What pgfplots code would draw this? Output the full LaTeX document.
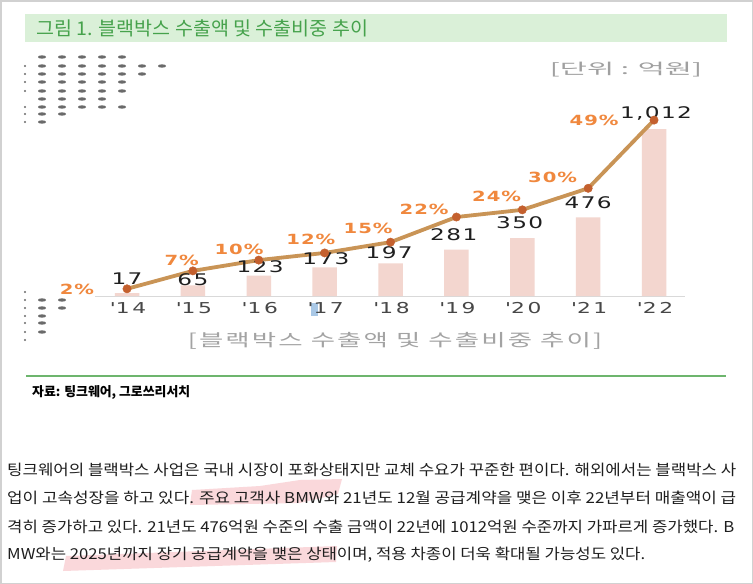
\documentclass[border=0pt]{standalone}
\usepackage{fontspec}
\usepackage{graphicx}
\usepackage{pgfplots}
\pgfplotsset{compat=1.18}
\setmainfont{Noto Sans CJK KR}
\newfontfamily\numfont[LetterSpace=6]{DejaVu Sans}
\newfontfamily\tickfont[LetterSpace=12]{DejaVu Sans}
\newfontfamily\pctfont[LetterSpace=5]{DejaVu Sans}
\newcommand\fitw[2]{\resizebox{#1}{\height}{#2}}
\newcommand\vw[1]{\scalebox{1.45}[1]{#1}}
\newcommand\pw[1]{\scalebox{1.4}[1]{#1}}
\newcommand\tk[1]{\scalebox{1.45}[1]{\textquotesingle#1}}
\definecolor{barc}{HTML}{F3D6CF}
\definecolor{linec}{HTML}{C99456}
\definecolor{markc}{HTML}{C4602E}
\definecolor{pctc}{HTML}{F0883E}
\definecolor{titlebg}{HTML}{DAF0D8}
\definecolor{titlefg}{HTML}{46A24C}
\definecolor{sepc}{HTML}{6DB56D}
\definecolor{dotc}{HTML}{6A6A6A}
\definecolor{unitc}{HTML}{A0A0A0}
\definecolor{subc}{HTML}{A3A3A3}
\definecolor{hlblue}{HTML}{A9C8E6}
\definecolor{pinkhl}{HTML}{F6B8BE}
\definecolor{txt}{HTML}{1E1E1E}
\begin{document}
\begin{tikzpicture}[
  vl/.style={font=\numfont\fontsize{16}{16}\selectfont, text=black!88, inner sep=0},
  pl/.style={font=\pctfont\bfseries\fontsize{14}{14}\selectfont, text=pctc, inner sep=0}]
\begin{scope}[x=1pt,y=1pt]
\fill[white] (0,0) rectangle (753,-584);
\draw[black!18, line width=1.5pt] (0.75,-0.75) rectangle (752.25,-583.25);
% title bar
\fill[titlebg] (25,-14) rectangle (727,-42);
\node[anchor=west, inner sep=0, text=titlefg] at (36,-28) {\fitw{332pt}{\fontsize{19}{19}\selectfont 그림 1. 블랙박스 수출액 및 수출비중 추이}};
% blurred dots (top left)
\foreach \yy/\nn in {57/4,66/6,74/5,82/4,91/4,99/3,107/4,114/1,122/0}{
  \foreach \i in {0,...,\nn}{\fill[dotc] (42+20*\i,-\yy) ellipse [x radius=4, y radius=1.7];}}
\foreach \yy in {66,74,82,91,107,114,122}{\fill[dotc] (25,-\yy) circle (1.1);}
% blurred dots (bottom left)
\foreach \yy in {292,300,308,316,323,332,340}{\fill[dotc] (25,-\yy) circle (1.1);}
\foreach \yy in {300,308,316,323,332}{\fill[dotc] (42,-\yy) ellipse [x radius=4, y radius=1.7];}
\foreach \yy in {300,308}{\fill[dotc] (62,-\yy) ellipse [x radius=4, y radius=1.7];}
% unit
\node[text=unitc, inner sep=0] at (626,-70) {\fitw{152pt}{\fontsize{15}{15}\selectfont [단위 : 억원]}};
% selection highlight on '17
\fill[hlblue] (311,-303) rectangle (318,-316);
\end{scope}
% bars
\begin{axis}[at={(95pt,-296pt)}, anchor=south west, scale only axis,
  width=590pt, height=200pt, xmin=-0.486, xmax=8.47, ymin=0, ymax=1212,
  axis x line*=bottom, axis y line=none,
  x axis line style={draw=black!15, line width=1pt, -},
  xtick={0,...,8},
  xticklabels={\tk{14},\tk{15},\tk{16},\tk{17},\tk{18},\tk{19},\tk{20},\tk{21},\tk{22}},
  major tick length=0pt, ytick=\empty,
  xticklabel style={font=\tickfont\fontsize{15}{15}\selectfont, text=black!72, yshift=-3pt, xshift=1pt},
  clip=false]
\addplot[ybar, bar width=24.5pt, fill=barc, draw=none] coordinates {(0,17) (1,65) (2,123) (3,173) (4,197) (5,281) (6,350) (7,476) (8,1012)};
\end{axis}
% share line
\begin{axis}[at={(95pt,-296pt)}, anchor=south west, scale only axis,
  width=590pt, height=200pt, xmin=-0.486, xmax=8.47, ymin=0, ymax=55.71,
  hide axis, clip=false]
\addplot[linec, line width=3.8pt, mark=*, mark size=4.2pt, mark options={solid, fill=markc, draw=markc, line width=0.4pt}] coordinates {(0,2) (1,7) (2,10) (3,12) (4,15) (5,22) (6,24) (7,30) (8,49)};
\node[vl] at (axis cs:0,4.74) {\vw{17}};
\node[vl] at (axis cs:1.0,4.46) {\vw{65}};
\node[vl] at (axis cs:2.02,8.08) {\vw{123}};
\node[vl] at (axis cs:3.02,10.31) {\vw{173}};
\node[vl] at (axis cs:3.98,11.98) {\vw{197}};
\node[vl] at (axis cs:4.96,16.99) {\vw{281}};
\node[vl] at (axis cs:5.96,20.33) {\vw{350}};
\node[vl] at (axis cs:7.0,25.9) {\vw{476}};
\node[vl] at (axis cs:8.03,50.7) {\vw{1,012}};
\node[pl] at (axis cs:-0.76,1.95) {\pw{2\%}};
\node[pl] at (axis cs:0.83,10.03) {\pw{7\%}};
\node[pl] at (axis cs:1.70,13.09) {\pw{10\%}};
\node[pl] at (axis cs:2.79,15.88) {\pw{12\%}};
\node[pl] at (axis cs:3.66,18.94) {\pw{15\%}};
\node[pl] at (axis cs:4.51,24.23) {\pw{22\%}};
\node[pl] at (axis cs:5.61,27.86) {\pw{24\%}};
\node[pl] at (axis cs:6.46,33.15) {\pw{30\%}};
\node[pl] at (axis cs:7.09,49.03) {\pw{49\%}};
\end{axis}
\begin{scope}[x=1pt,y=1pt]
% subtitle
\node[text=subc, inner sep=0] at (395,-341) {\fitw{414pt}{\addfontfeature{LetterSpace=8}\fontsize{17}{17}\selectfont [블랙박스 수출액 및 수출비중 추이]}};
% separator and source
\draw[sepc, line width=2.2pt] (26,-376) -- (726,-376);
\node[anchor=west, inner sep=0, text=black] at (32,-392) {\fitw{158pt}{\bfseries\fontsize{13}{13}\selectfont 자료: 팅크웨어, 그로쓰리서치}};
% highlights
\fill[pinkhl, opacity=0.55] (190,-505) -- (192,-490) -- (260,-486) -- (300,-480) -- (342,-479) -- (338,-494) -- (300,-503) -- cycle;
\fill[pinkhl, opacity=0.55] (63,-571) -- (66,-556) -- (337,-546) -- (336,-562) -- cycle;
% paragraph
\begin{scope}[every node/.style={anchor=west, inner sep=0, text=txt}]
\node at (7,-470) {\fitw{729pt}{\fontsize{15}{15}\selectfont 팅크웨어의 블랙박스 사업은 국내 시장이 포화상태지만 교체 수요가 꾸준한 편이다. 해외에서는 블랙박스 사}};
\node at (7,-498) {\fitw{729pt}{\fontsize{15}{15}\selectfont 업이 고속성장을 하고 있다. 주요 고객사 BMW와 21년도 12월 공급계약을 맺은 이후 22년부터 매출액이 급}};
\node at (7,-527) {\fitw{727pt}{\fontsize{15}{15}\selectfont 격히 증가하고 있다. 21년도 476억원 수준의 수출 금액이 22년에 1012억원 수준까지 가파르게 증가했다. B}};
\node at (7,-555) {\fitw{638pt}{\fontsize{15}{15}\selectfont MW와는 2025년까지 장기 공급계약을 맺은 상태이며, 적용 차종이 더욱 확대될 가능성도 있다.}};
\end{scope}
\pgfresetboundingbox
\useasboundingbox (0,0) rectangle (753,-584);
\end{scope}
\end{tikzpicture}
\end{document}
